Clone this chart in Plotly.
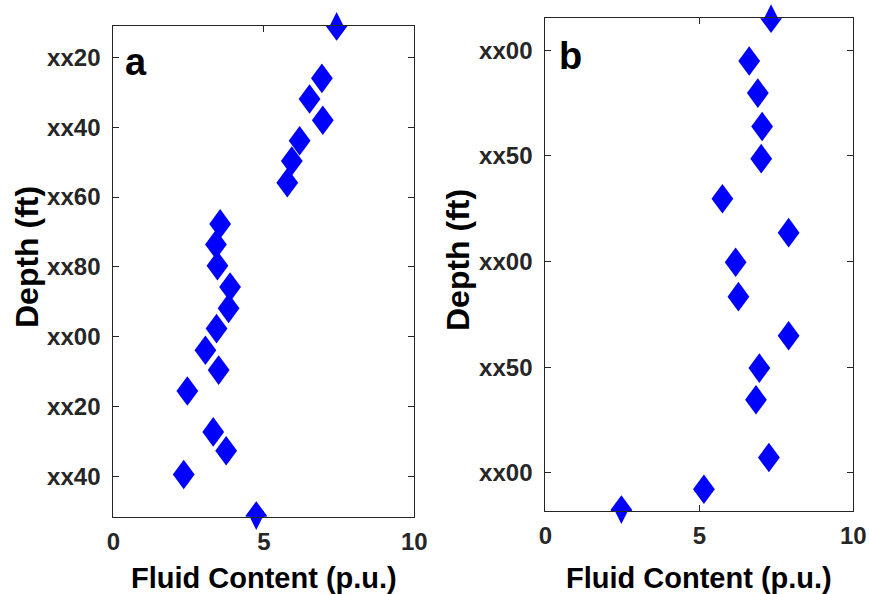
import plotly.graph_objects as go

# ---- data ----
fluid_a = [7.42, 6.93, 6.52, 6.96, 6.19, 5.93, 5.78, 3.55, 3.41, 3.46, 3.88,
           3.83, 3.43, 3.06, 3.50, 2.46, 3.32, 3.75, 2.34, 4.75]
depth_a = [11.0, 26.0, 31.9, 38.0, 43.9, 49.7, 55.9, 67.7, 73.6, 79.7, 85.8,
           91.9, 97.7, 103.9, 109.6, 115.6, 127.3, 132.7, 139.5, 151.4]

fluid_b = [7.33, 6.62, 6.90, 7.04, 7.01, 5.75, 7.90, 6.18, 6.27, 7.90, 6.95,
           6.84, 7.26, 5.15, 2.47]
depth_b = [84.9, 105.1, 120.3, 136.1, 151.3, 170.3, 186.3, 200.3, 216.6, 235.1,
           250.4, 265.4, 292.7, 307.7, 317.5]

x_ticks = [0, 5, 10]
ytick_a = [20, 40, 60, 80, 100, 120, 140]
ytext_a = ["xx20", "xx40", "xx60", "xx80", "xx00", "xx20", "xx40"]
ytick_b = [100, 150, 200, 250, 300]
ytext_b = ["xx00", "xx50", "xx00", "xx50", "xx00"]

W, H = 869, 594
FONT = "Liberation Sans, Arial, sans-serif"
AX = "#262626"
BLUE = "#0000FF"
# diamond glyph (pixel offsets, style only)
DIAMOND_PATH = "M0,-14.8 L10.9,0 L0,14.8 L-10.9,0 Z"

fig = go.Figure()

shapes = []
for xs, ys, xa, ya in [(fluid_a, depth_a, "x", "y"), (fluid_b, depth_b, "x2", "y2")]:
    fig.add_trace(go.Scatter(x=xs, y=ys, xaxis=xa, yaxis=ya, mode="markers",
                             marker=dict(symbol="diamond-tall", size=20, color=BLUE,
                                         line=dict(width=0)),
                             cliponaxis=False, showlegend=False, hoverinfo="x+y"))
    for xv, yv in zip(xs, ys):
        shapes.append(dict(type="path", xref=xa, yref=ya,
                           xsizemode="pixel", ysizemode="pixel",
                           xanchor=xv, yanchor=yv, path=DIAMOND_PATH,
                           fillcolor=BLUE, line=dict(width=0), layer="above"))

tickfont = dict(family=FONT, size=24, color=AX, weight="bold")
common = dict(showline=True, linecolor=AX, linewidth=1, mirror="ticks",
              ticks="inside", ticklen=6, tickcolor=AX, tickwidth=1,
              showgrid=False, zeroline=False, tickfont=tickfont, automargin=False)

def px(v):
    return v / W

def py(v):
    return 1 - v / H

fig.update_layout(
    width=W, height=H,
    margin=dict(l=0, r=0, t=0, b=0, autoexpand=False),
    paper_bgcolor="white", plot_bgcolor="white",
    shapes=shapes,
    xaxis=dict(domain=[px(113.3), px(414.3)], range=[0, 10], tickvals=x_ticks,
               anchor="y", ticklabelstandoff=3, **common),
    yaxis=dict(domain=[py(516.7), py(26)], range=[151.6, 11.0], tickvals=ytick_a,
               ticktext=ytext_a, anchor="x", ticklabelstandoff=7, **common),
    xaxis2=dict(domain=[px(545.3), px(853.3)], range=[0, 10], tickvals=x_ticks,
                anchor="y2", ticklabelstandoff=3, **common),
    yaxis2=dict(domain=[py(511), py(18.3)], range=[318.0, 84.9], tickvals=ytick_b,
                ticktext=ytext_b, anchor="x2", ticklabelstandoff=7, **common),
)

xt_font = dict(family=FONT, size=29, color="black", weight="bold")
yt_font = dict(family=FONT, size=32, color="black", weight="bold")
lbl_font = dict(family=FONT, size=38, color="black", weight="bold")
annots = [
    dict(text="Fluid Content (p.u.)", x=px(263.8), y=py(578), font=xt_font),
    dict(text="Fluid Content (p.u.)", x=px(699.3), y=py(578), font=xt_font),
    dict(text="Depth (ft)", x=px(27), y=py(257), textangle=-90, font=yt_font),
    dict(text="Depth (ft)", x=px(458), y=py(260), textangle=-90, font=yt_font),
    dict(text="a", x=px(136), y=py(62), font=lbl_font),
    dict(text="b", x=px(570), y=py(56), font=lbl_font),
]
for a in annots:
    fig.add_annotation(xref="paper", yref="paper", showarrow=False,
                       xanchor="center", yanchor="middle", **a)

fig.write_html(
    "out.html",
    config={"displayModeBar": False},
    post_script="document.body.style.margin='0';document.body.style.overflow='hidden';",
)
